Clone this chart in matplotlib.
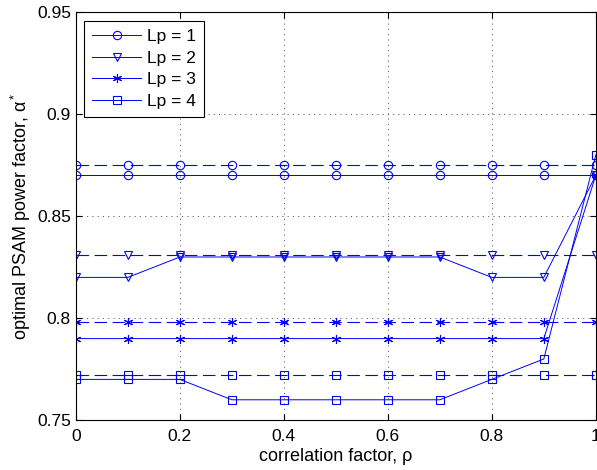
import matplotlib
matplotlib.use('Agg')
import matplotlib.pyplot as plt
import numpy as np

plt.rcParams['font.family'] = ['Liberation Sans', 'DejaVu Sans']
plt.rcParams['mathtext.fontset'] = 'custom'
plt.rcParams['mathtext.rm'] = 'Liberation Sans'
plt.rcParams['mathtext.it'] = 'Liberation Sans:italic'
plt.rcParams['lines.scale_dashes'] = False

# correlation factor
rho = [0.0, 0.1, 0.2, 0.3, 0.4, 0.5, 0.6, 0.7, 0.8, 0.9, 1.0]

# optimal alpha (solid, markers)
lp1 = [0.87, 0.87, 0.87, 0.87, 0.87, 0.87, 0.87, 0.87, 0.87, 0.87, 0.87]
lp2 = [0.82, 0.82, 0.83, 0.83, 0.83, 0.83, 0.83, 0.83, 0.82, 0.82, 0.87]
lp3 = [0.79, 0.79, 0.79, 0.79, 0.79, 0.79, 0.79, 0.79, 0.79, 0.79, 0.87]
lp4 = [0.77, 0.77, 0.77, 0.76, 0.76, 0.76, 0.76, 0.76, 0.77, 0.78, 0.88]

# reference levels (dashed)
ref1 = [0.875] * 11
ref2 = [0.831] * 11
ref3 = [0.798] * 11
ref4 = [0.772] * 11

labels = ['Lp = 1', 'Lp = 2', 'Lp = 3', 'Lp = 4']
markers = ['o', 'v', (6, 2, 0), 's']
sizes = [6, 6, 6.5, 6]

fig = plt.figure(figsize=(5.97, 4.70), dpi=100)
ax = fig.add_axes([0.127, 0.106, 0.871, 0.868])

blue = '#0000ff'
for y, m, ms, lab in zip([lp1, lp2, lp3, lp4], markers, sizes, labels):
    ax.plot(rho, y, '-', color=blue, lw=0.7, marker=m, ms=ms,
            mfc='none', mec=blue, mew=0.8, label=lab)
for y, m, ms in zip([ref1, ref2, ref3, ref4], markers, sizes):
    ax.plot(rho, y, '--', color=blue, lw=0.8, dashes=(9, 4), marker=m, ms=ms,
            mfc='none', mec=blue, mew=0.8)

ax.set_xlim(0, 1)
ax.set_ylim(0.75, 0.95)
ax.set_xticks([0, 0.2, 0.4, 0.6, 0.8, 1])
ax.set_xticklabels(['0', '0.2', '0.4', '0.6', '0.8', '1'])
ax.set_yticks([0.75, 0.8, 0.85, 0.9, 0.95])
ax.set_yticklabels(['0.75', '0.8', '0.85', '0.9', '0.95'])
ax.tick_params(direction='in', top=True, right=True, labelsize=12.5, length=4)
ax.tick_params(axis='x', pad=6)
ax.grid(True, linestyle=(0, (0.8, 3)), color='#444444', lw=0.6)
for s in ax.spines.values():
    s.set_linewidth(0.8)

ax.set_xlabel('correlation factor, ρ', fontsize=13, labelpad=3)
ax.set_ylabel('optimal PSAM power factor, α$^*$', fontsize=13, labelpad=3)

leg = ax.legend(loc='upper left', fontsize=12.5, fancybox=False, edgecolor='k',
                framealpha=1, handlelength=2.8, handletextpad=0.35,
                borderpad=0.45, borderaxespad=0.5, labelspacing=0.38)
leg.get_frame().set_linewidth(0.8)

fig.savefig('out.png', dpi=100)
